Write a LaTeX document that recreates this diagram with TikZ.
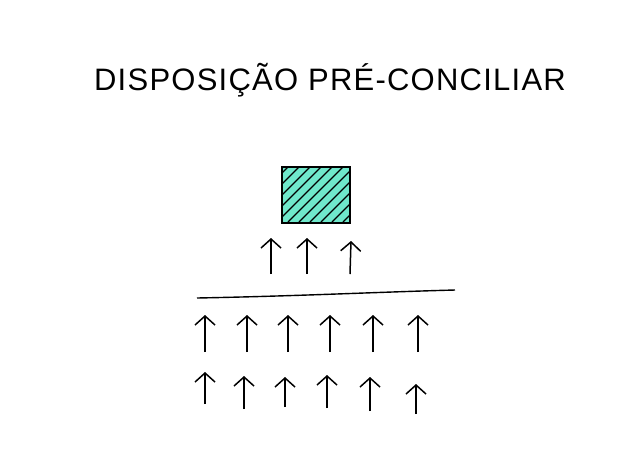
\documentclass[tikz,border=0pt]{standalone}
\usepackage{fontspec}
\setmainfont{Liberation Sans}
\usetikzlibrary{arrows.meta}
\definecolor{aqua}{HTML}{6FE8CB}
\tikzset{
  uparrow/.style={line width=1.5pt, -{Straight Barb[length=9pt,width=20pt,line width=1.5pt]}},
  pen/.style={line width=1.4pt}
}
\begin{document}
\begin{tikzpicture}[x=1pt,y=-1pt]
\useasboundingbox (0,0) rectangle (618,459);
\node (title) at (330,80) {\fontsize{31}{31}\selectfont\addfontfeature{LetterSpace=4}DISPOSIÇÃO PRÉ-CONCILIAR};
\node[pen, draw, fill=aqua, minimum width=68pt, minimum height=55pt, inner sep=0pt] (box) at (316,195) {};
\begin{scope}
\clip (box.south west) rectangle (box.north east);
\foreach \i in {-60,-49,...,70} {
  \draw[line width=1.1pt] (282+\i,222) -- (282+\i+55,167);
}
\end{scope}
\draw[pen] (box.south west) rectangle (box.north east);
% small arrows
\coordinate (s1a) at (271,274); \coordinate (s1b) at (271,238);
\coordinate (s2a) at (307,274); \coordinate (s2b) at (307,238);
\coordinate (s3a) at (350,274); \coordinate (s3b) at (351,241);
\foreach \n in {1,2,3} \draw[uparrow] (s\n a) -- (s\n b);
% line
\coordinate (la) at (197,298); \coordinate (lb) at (455,290);
\draw[pen] (la) .. controls (300,296) and (380,292) .. (lb);
% row 1
\foreach \x/\n in {205/1,247/2,288/3,330/4,373/5,418/6} {
  \coordinate (r1a\n) at (\x,352); \coordinate (r1b\n) at (\x,315);
  \draw[uparrow] (r1a\n) -- (r1b\n);
}
% row 2
\foreach \x/\t/\b/\n in {205/372/404/1,244/376/409/2,285/377/407/3,327/375/408/4,370/377/411/5,416/384/414/6} {
  \coordinate (r2a\n) at (\x,\b); \coordinate (r2b\n) at (\x,\t);
  \draw[uparrow] (r2a\n) -- (r2b\n);
}
\end{tikzpicture}
\end{document}
